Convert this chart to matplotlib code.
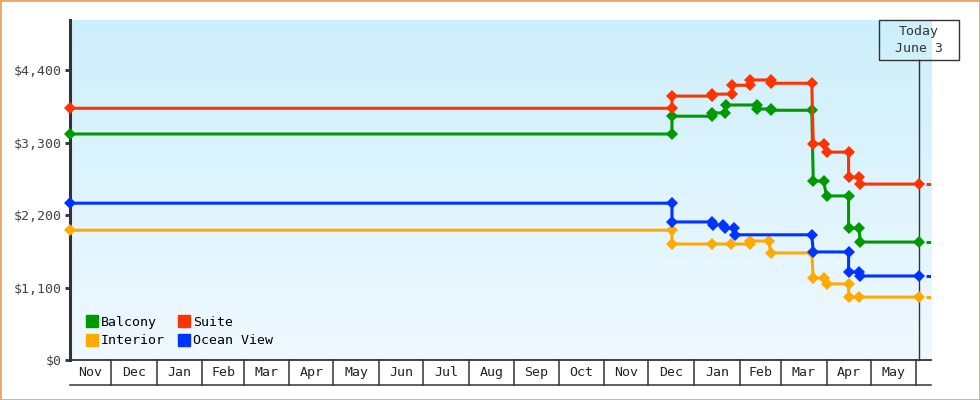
import datetime
import numpy as np
import matplotlib
matplotlib.use('Agg')
import matplotlib.pyplot as plt
import matplotlib.dates as mdates
import matplotlib.transforms as mtransforms
from matplotlib.colors import LinearSegmentedColormap
from matplotlib.lines import Line2D
from matplotlib.patches import Rectangle

# --- data -------------------------------------------------------------
start_date = '2021-11-03'
end_date = '2023-06-11'
today = '2023-06-03'
today_label = 'Today\nJune 3'

y_ticks = [0, 1100, 2200, 3300, 4400]
y_tick_labels = ['$0', '$1,100', '$2,200', '$3,300', '$4,400']
y_max = 5160

balcony_dates = ['2021-11-03', '2022-12-17', '2022-12-17', '2023-01-13', '2023-01-13',
                 '2023-01-22', '2023-01-23', '2023-02-13', '2023-02-13', '2023-02-22',
                 '2023-02-22', '2023-03-22', '2023-03-23', '2023-03-30', '2023-04-01',
                 '2023-04-16', '2023-04-16', '2023-04-23', '2023-04-24', '2023-06-03']
balcony_prices = [3430, 3430, 3700, 3700, 3750, 3750, 3870, 3870, 3810, 3810,
                  3790, 3790, 2715, 2715, 2490, 2490, 2000, 2000, 1790, 1790]

suite_dates = ['2021-11-03', '2022-12-17', '2022-12-17', '2023-01-13', '2023-01-13',
               '2023-01-27', '2023-01-27', '2023-02-08', '2023-02-08', '2023-02-22',
               '2023-02-22', '2023-03-22', '2023-03-23', '2023-03-30', '2023-04-01',
               '2023-04-16', '2023-04-16', '2023-04-23', '2023-04-24', '2023-06-03']
suite_prices = [3820, 3820, 4005, 4005, 4035, 4035, 4170, 4170, 4250, 4250,
                4200, 4200, 3280, 3280, 3155, 3155, 2775, 2775, 2670, 2670]

ocean_dates = ['2021-11-03', '2022-12-17', '2022-12-17', '2023-01-13', '2023-01-14',
               '2023-01-21', '2023-01-22', '2023-01-28', '2023-01-29', '2023-03-22',
               '2023-03-23', '2023-04-16', '2023-04-16', '2023-04-23', '2023-04-24',
               '2023-06-03']
ocean_prices = [2380, 2380, 2095, 2095, 2050, 2050, 2005, 2005, 1900, 1900,
                1640, 1640, 1335, 1335, 1275, 1275]

interior_dates = ['2021-11-03', '2022-12-17', '2022-12-17', '2023-01-13', '2023-01-26',
                  '2023-02-08', '2023-02-08', '2023-02-21', '2023-02-22', '2023-03-22',
                  '2023-03-23', '2023-03-30', '2023-04-01', '2023-04-16', '2023-04-16',
                  '2023-04-23', '2023-06-03']
interior_prices = [1970, 1970, 1760, 1760, 1760, 1760, 1805, 1805, 1625, 1625,
                   1245, 1245, 1155, 1155, 955, 955, 955]

series = [
    ('Balcony', balcony_dates, balcony_prices, '#009900'),
    ('Interior', interior_dates, interior_prices, '#ffaa00'),
    ('Suite', suite_dates, suite_prices, '#ff3300'),
    ('Ocean View', ocean_dates, ocean_prices, '#0033ff'),
]

# --- style ------------------------------------------------------------
plt.rcParams['font.family'] = ['DejaVu Sans Mono']
ink = '#333333'
fs = 9.5

fig = plt.figure(figsize=(9.8, 4), dpi=100)
ax = fig.add_axes([70 / 980, 40 / 400, 861 / 980, 340 / 400])

# gradient background
bg = LinearSegmentedColormap.from_list('bg', ['#cdeffc', '#f0f9ff'])
ax.imshow(np.linspace(0, 1, 256).reshape(-1, 1), cmap=bg, extent=[0, 1, 0, 1],
          transform=ax.transAxes, aspect='auto', zorder=0)

x_start = mdates.datestr2num(start_date)
x_end = mdates.datestr2num(end_date)
x_today = mdates.datestr2num(today)

# today line (stops under the label box)
box_w, box_h = 80, 40
ax.plot([x_today, x_today], [0, 1 - box_h / 340], color=ink, lw=1.0,
        transform=ax.get_xaxis_transform(), clip_on=False, zorder=2)

lw = 2.2
for name, d, p, c in series:
    xs = mdates.datestr2num(d)
    ax.plot(xs, p, color=c, lw=lw, marker='D', markersize=6.5, markeredgewidth=0,
            clip_on=False, zorder=3)
    # dashed continuation past today
    ax.plot([xs[-1], x_end], [p[-1], p[-1]], color=c, lw=lw,
            linestyle=(1.9, (1.9, 2.3)), dash_capstyle='butt', zorder=3)

ax.set_xlim(x_start, x_end)
ax.set_ylim(0, y_max)

# axes styling
for s in ['top', 'right']:
    ax.spines[s].set_visible(False)
ax.spines['left'].set_linewidth(2.2)
ax.spines['left'].set_color(ink)
ax.spines['bottom'].set_linewidth(1.3)
ax.spines['bottom'].set_color(ink)
ax.set_yticks(y_ticks)
ax.set_yticklabels(y_tick_labels, fontsize=fs, color='#444444')
ax.tick_params(axis='y', direction='out', length=3.6, width=2.0, color=ink, pad=2)
ax.set_xticks([])

# month band under the axis
band = 25 / 340
xt = ax.get_xaxis_transform()
d0 = mdates.num2date(x_start).date()
d1 = mdates.num2date(x_end).date()
month_starts = []
y, m = d0.year, d0.month
while True:
    m += 1
    if m > 12:
        y, m = y + 1, 1
    first = datetime.date(y, m, 1)
    if first >= d1:
        break
    month_starts.append(mdates.date2num(first))
edges = [x_start] + month_starts + [x_end]
for ms in month_starts:
    ax.plot([ms, ms], [0, -band], color=ink, lw=1.1, transform=xt, clip_on=False)
ax.plot([x_start, x_end], [-band, -band], color=ink, lw=1.1, transform=xt, clip_on=False)
for a, b in zip(edges[:-1], edges[1:]):
    if b - a > 20:
        ax.text((a + b) / 2, -band / 2, mdates.num2date(a + 1).strftime('%b'),
                transform=xt, ha='center', va='center', fontsize=fs, color='#222222')

# today label box
box_trans = mtransforms.Affine2D().translate(-box_w / 2, -box_h) + \
    mtransforms.ScaledTranslation(x_today, 1, xt)
ax.add_patch(Rectangle((0, 0), box_w, box_h, transform=box_trans, fill=False,
                       edgecolor=ink, lw=1.0, clip_on=False, zorder=4))
ax.text(x_today, 1 - (box_h / 2) / 340, today_label, transform=xt, ha='center',
        va='center', fontsize=fs, color=ink, linespacing=1.45, zorder=5)

# legend
handles = [Line2D([], [], color=c, marker='s', linestyle='none', markersize=8)
           for _, _, _, c in series]
ax.legend(handles, [s[0] for s in series], ncol=2, loc='lower left',
          bbox_to_anchor=(0.012, 0.022), frameon=False, fontsize=fs,
          handlelength=0.9, handletextpad=0.25, columnspacing=1.0, labelspacing=0.4,
          borderaxespad=0)

# figure border
fig.patches.append(Rectangle((0, 0), 1, 1, transform=fig.transFigure, fill=False,
                             edgecolor='#e8a866', lw=2.0))

fig.savefig('out.png', dpi=100)
